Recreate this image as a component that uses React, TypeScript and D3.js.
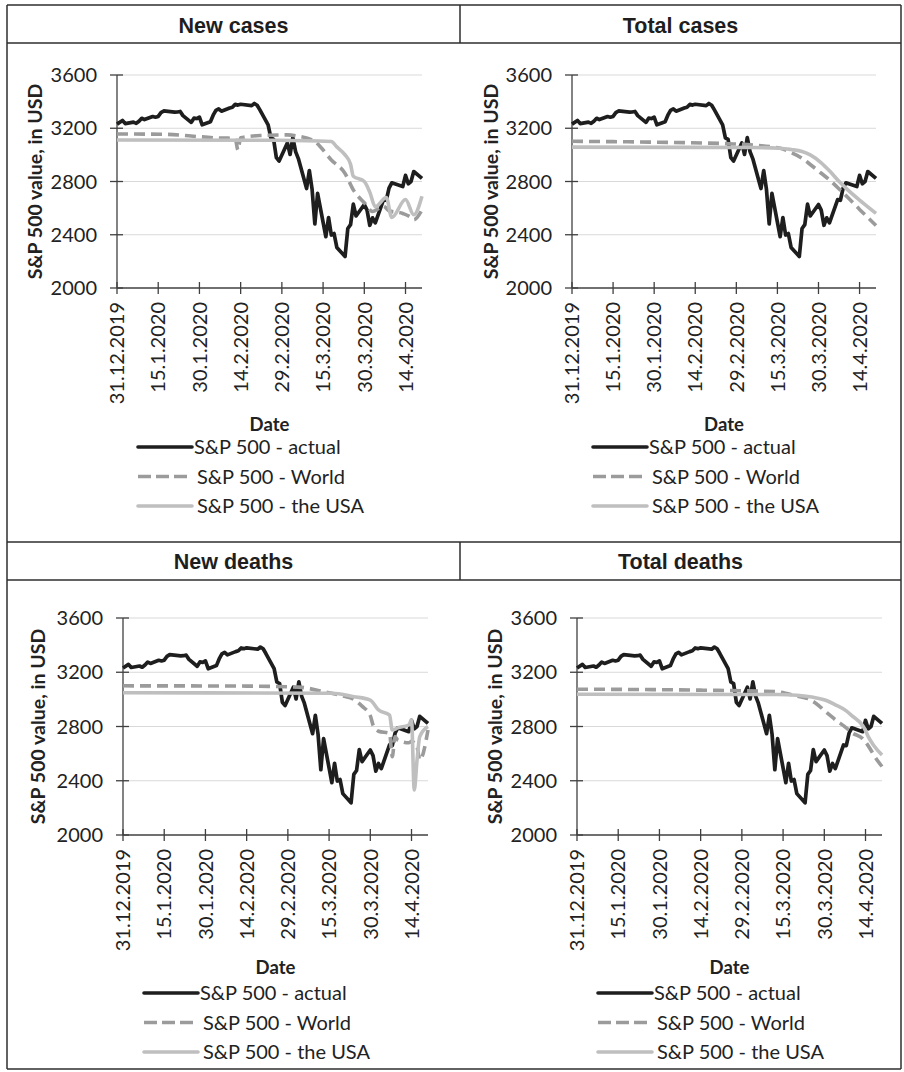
import React from "react";
import * as d3 from "d3";

type Pt = [string, number];

const panelTitles = ["New cases", "Total cases", "New deaths", "Total deaths"];
const legendLabels = ["S&P 500 - actual", "S&P 500 - World", "S&P 500 - the USA"];
const yTicks = [2000, 2400, 2800, 3200, 3600];
const tickDates = [
  "2019-12-31", "2020-01-15", "2020-01-30", "2020-02-14",
  "2020-02-29", "2020-03-15", "2020-03-30", "2020-04-14",
];
const tickLabels = [
  "31.12.2019", "15.1.2020", "30.1.2020", "14.2.2020",
  "29.2.2020", "15.3.2020", "30.3.2020", "14.4.2020",
];

// trading days and S&P 500 closes (actual)
const tradingDates = [
  "2019-12-31",
  "2020-01-02", "2020-01-03", "2020-01-06", "2020-01-07", "2020-01-08", "2020-01-09", "2020-01-10",
  "2020-01-13", "2020-01-14", "2020-01-15", "2020-01-16", "2020-01-17", "2020-01-21", "2020-01-22",
  "2020-01-23", "2020-01-24", "2020-01-27", "2020-01-28", "2020-01-29", "2020-01-30", "2020-01-31",
  "2020-02-03", "2020-02-04", "2020-02-05", "2020-02-06", "2020-02-07", "2020-02-10", "2020-02-11",
  "2020-02-12", "2020-02-13", "2020-02-14", "2020-02-18", "2020-02-19", "2020-02-20", "2020-02-21",
  "2020-02-24", "2020-02-25", "2020-02-26", "2020-02-27", "2020-02-28",
  "2020-03-02", "2020-03-03", "2020-03-04", "2020-03-05", "2020-03-06", "2020-03-09", "2020-03-10",
  "2020-03-11", "2020-03-12", "2020-03-13", "2020-03-16", "2020-03-17", "2020-03-18", "2020-03-19",
  "2020-03-20", "2020-03-23", "2020-03-24", "2020-03-25", "2020-03-26", "2020-03-27", "2020-03-30",
  "2020-03-31",
  "2020-04-01", "2020-04-02", "2020-04-03", "2020-04-06", "2020-04-07", "2020-04-08", "2020-04-09",
  "2020-04-13", "2020-04-14", "2020-04-15", "2020-04-16", "2020-04-17", "2020-04-20",
];
const actualValues = [
  3231,
  3258, 3235, 3246, 3237, 3253, 3275, 3265, 3288, 3283, 3289, 3317, 3330, 3321, 3322,
  3326, 3295, 3244, 3276, 3273, 3284, 3226,
  3249, 3298, 3335, 3346, 3328, 3352, 3358, 3379, 3374, 3380, 3370, 3386, 3373, 3338,
  3226, 3128, 3116, 2979, 2954,
  3090, 3003, 3130, 3024, 2972, 2747, 2882, 2741, 2481, 2711, 2386, 2529, 2398, 2409,
  2305, 2237, 2447, 2476, 2630, 2541, 2627, 2585,
  2471, 2527, 2489, 2664, 2659, 2750, 2790, 2762, 2846, 2783, 2800, 2875, 2823,
];

// model estimates
const newCasesWorld: Pt[] = [
  ["2019-12-31", 3157], ["2020-01-17", 3155], ["2020-01-31", 3135], ["2020-02-07", 3126],
  ["2020-02-12", 3125], ["2020-02-13", 3037], ["2020-02-14", 3128], ["2020-02-21", 3145],
  ["2020-03-02", 3150], ["2020-03-06", 3140], ["2020-03-12", 3100], ["2020-03-18", 2962],
  ["2020-03-23", 2860], ["2020-03-26", 2737], ["2020-03-30", 2640], ["2020-04-02", 2575],
  ["2020-04-06", 2615], ["2020-04-08", 2580], ["2020-04-13", 2560], ["2020-04-16", 2530],
  ["2020-04-17", 2512], ["2020-04-20", 2587],
];
const newCasesUsa: Pt[] = [
  ["2019-12-31", 3112], ["2020-02-28", 3110], ["2020-03-18", 3100], ["2020-03-20", 3060],
  ["2020-03-23", 3000], ["2020-03-25", 2930], ["2020-03-26", 2840], ["2020-03-30", 2800],
  ["2020-04-01", 2720], ["2020-04-03", 2610], ["2020-04-07", 2680], ["2020-04-09", 2530],
  ["2020-04-14", 2665], ["2020-04-17", 2550], ["2020-04-20", 2690],
];
const totalCasesWorld: Pt[] = [
  ["2019-12-31", 3102], ["2020-01-31", 3095], ["2020-02-28", 3082], ["2020-03-16", 3050],
  ["2020-03-20", 3018], ["2020-03-24", 2975], ["2020-03-27", 2928], ["2020-03-31", 2862],
  ["2020-04-03", 2812], ["2020-04-07", 2735], ["2020-04-09", 2695], ["2020-04-14", 2590],
  ["2020-04-17", 2530], ["2020-04-20", 2470],
];
const totalCasesUsa: Pt[] = [
  ["2019-12-31", 3058], ["2020-03-06", 3055], ["2020-03-16", 3050], ["2020-03-20", 3040],
  ["2020-03-24", 3025], ["2020-03-27", 3000], ["2020-03-31", 2940], ["2020-04-03", 2880],
  ["2020-04-07", 2790], ["2020-04-09", 2750], ["2020-04-14", 2660], ["2020-04-17", 2610],
  ["2020-04-20", 2560],
];
const newDeathsWorld: Pt[] = [
  ["2019-12-31", 3100], ["2020-02-14", 3098], ["2020-03-04", 3090], ["2020-03-13", 3057],
  ["2020-03-20", 3025], ["2020-03-24", 3000], ["2020-03-27", 2950], ["2020-03-30", 2880],
  ["2020-03-31", 2811], ["2020-04-02", 2765], ["2020-04-06", 2750], ["2020-04-07", 2577],
  ["2020-04-08", 2725], ["2020-04-09", 2700], ["2020-04-13", 2680], ["2020-04-14", 2690],
  ["2020-04-16", 2650], ["2020-04-17", 2553], ["2020-04-20", 2774],
];
const newDeathsUsa: Pt[] = [
  ["2019-12-31", 3049], ["2020-03-16", 3045], ["2020-03-24", 3020], ["2020-03-30", 2995],
  ["2020-04-02", 2922], ["2020-04-06", 2885], ["2020-04-07", 2774], ["2020-04-09", 2790],
  ["2020-04-13", 2811], ["2020-04-14", 2848], ["2020-04-15", 2332], ["2020-04-16", 2550],
  ["2020-04-17", 2725], ["2020-04-20", 2800],
];
const totalDeathsWorld: Pt[] = [
  ["2019-12-31", 3075], ["2020-02-14", 3068], ["2020-03-12", 3057], ["2020-03-20", 3025],
  ["2020-03-24", 3005], ["2020-03-27", 2970], ["2020-03-31", 2900], ["2020-04-03", 2850],
  ["2020-04-07", 2790], ["2020-04-09", 2755], ["2020-04-13", 2710], ["2020-04-16", 2625],
  ["2020-04-17", 2590], ["2020-04-20", 2505],
];
const totalDeathsUsa: Pt[] = [
  ["2019-12-31", 3038], ["2020-03-13", 3036], ["2020-03-20", 3030], ["2020-03-26", 3015],
  ["2020-03-31", 2990], ["2020-04-03", 2960], ["2020-04-07", 2915], ["2020-04-09", 2880],
  ["2020-04-13", 2805], ["2020-04-14", 2770], ["2020-04-15", 2725], ["2020-04-17", 2660],
  ["2020-04-20", 2590],
];

const parse = d3.utcParse("%Y-%m-%d");
const tickFont = "Lato, 'Open Sans', sans-serif";
const headFont = "'Liberation Sans', Arial, sans-serif";

const C_ACTUAL = "#1e1e1e";
const C_WORLD = "#9b9b9b";
const C_USA = "#bfbfbf";
const DASH = "11 6";
const FS = 20;

interface PanelProps {
  x0: number;
  x1: number;
  yTop: number;
  yBot: number;
  titleX: number;
  world: Pt[];
  usa: Pt[];
  dateY: number;
  legendY: number;
}

function Panel({ x0, x1, yTop, yBot, titleX, world, usa, dateY, legendY }: PanelProps) {
  const x = d3
    .scaleUtc()
    .domain([parse(tradingDates[0])!, parse(tradingDates[tradingDates.length - 1])!])
    .range([x0, x1]);
  const y = d3.scaleLinear().domain([2000, 3600]).range([yBot, yTop]);

  const actual: Pt[] = tradingDates.map((d, i) => [d, actualValues[i]]);
  const straight = d3.line<Pt>().x((d) => x(parse(d[0])!)).y((d) => y(d[1]));
  const smooth = d3
    .line<Pt>()
    .x((d) => x(parse(d[0])!))
    .y((d) => y(d[1]))
    .curve(d3.curveMonotoneX);

  const labelTop = yBot + 14;
  const midY = (yTop + yBot) / 2;
  const midX = (x0 + x1) / 2;
  const lx = x0 + 21;

  return (
    <g>
      {yTicks.slice(1).map((t) => (
        <line key={"g" + t} x1={x0} x2={x1} y1={y(t)} y2={y(t)} stroke="#d9d9d9" strokeWidth={1} />
      ))}
      {/* y axis */}
      <line x1={x0} x2={x0} y1={yTop} y2={yBot} stroke="#404040" strokeWidth={1.3} />
      {yTicks.map((t) => (
        <g key={"y" + t}>
          <line x1={x0 - 7} x2={x0 + 6} y1={y(t)} y2={y(t)} stroke="#404040" strokeWidth={1.3} />
          <text
            x={x0 - 20}
            y={y(t)}
            dy="0.36em"
            textAnchor="end"
            fontFamily={tickFont}
            fontSize={FS}
            fill="#222"
          >
            {t}
          </text>
        </g>
      ))}
      {/* x axis */}
      <line x1={x0} x2={x1} y1={yBot} y2={yBot} stroke="#404040" strokeWidth={1.3} />
      {tickDates.map((d, i) => {
        const tx = x(parse(d)!);
        return (
          <g key={"x" + d}>
            <line x1={tx} x2={tx} y1={yBot - 6} y2={yBot + 6} stroke="#404040" strokeWidth={1.3} />
            <text
              transform={`translate(${tx},${labelTop}) rotate(-90)`}
              dy="0.36em"
              textAnchor="end"
              fontFamily={tickFont}
              fontSize={FS}
              fill="#222"
            >
              {tickLabels[i]}
            </text>
          </g>
        );
      })}
      {/* series */}
      <path d={straight(actual)!} fill="none" stroke={C_ACTUAL} strokeWidth={3.7} strokeLinejoin="round" />
      <path
        d={smooth(world)!}
        fill="none"
        stroke={C_WORLD}
        strokeWidth={3.6}
        strokeDasharray={DASH}
        strokeLinejoin="round"
      />
      <path d={smooth(usa)!} fill="none" stroke={C_USA} strokeWidth={3.6} strokeLinejoin="round" />
      {/* axis titles */}
      <text
        transform={`translate(${titleX},${midY}) rotate(-90)`}
        dy="0.36em"
        textAnchor="middle"
        fontFamily={tickFont}
        fontWeight="bold"
        fontSize={19.5}
        fill="#222"
      >
        S&amp;P 500 value, in USD
      </text>
      <text
        x={midX}
        y={dateY}
        dy="0.36em"
        textAnchor="middle"
        fontFamily={tickFont}
        fontWeight="bold"
        fontSize={18.5}
        fill="#222"
      >
        Date
      </text>
      {/* legend */}
      {legendLabels.map((lab, i) => {
        const ly = legendY + i * 29.5;
        const stroke = i === 0 ? C_ACTUAL : i === 1 ? C_WORLD : C_USA;
        return (
          <g key={lab}>
            <line
              x1={lx}
              x2={i === 1 ? lx + 49 : lx + 54}
              y1={ly}
              y2={ly}
              stroke={stroke}
              strokeWidth={3.6}
              strokeDasharray={i === 1 ? "13 5" : undefined}
              strokeLinecap={i === 1 ? "butt" : "round"}
            />
            <text
              x={i === 0 ? lx + 56 : lx + 59}
              y={ly}
              dy="0.36em"
              fontFamily={tickFont}
              fontSize={FS}
              fill="#222"
            >
              {lab}
            </text>
          </g>
        );
      })}
    </g>
  );
}

const App: React.FC = () => {
  const L = 7;
  const M = 460;
  const R = 901;
  const B = 1069;
  const frame = "#2e2e2e";
  return (
    <svg
      width={904}
      height={1072}
      style={{ position: "absolute", left: 0, top: 0, background: "#fff" }}
    >
      <rect x={0} y={0} width={904} height={1072} fill="#fff" />
      {/* frame */}
      <line x1={L} x2={R} y1={5} y2={5} stroke={frame} strokeWidth={1.5} />
      <line x1={L} x2={R} y1={43} y2={43} stroke={frame} strokeWidth={1.5} />
      <line x1={L} x2={R} y1={542} y2={542} stroke={frame} strokeWidth={1.5} />
      <line x1={L} x2={R} y1={580} y2={580} stroke={frame} strokeWidth={1.5} />
      <line x1={L} x2={R} y1={B} y2={B} stroke={frame} strokeWidth={1.5} />
      <line x1={L} x2={L} y1={5} y2={B} stroke={frame} strokeWidth={1.5} />
      <line x1={R} x2={R} y1={5} y2={B} stroke={frame} strokeWidth={1.5} />
      <line x1={M} x2={M} y1={5} y2={43} stroke={frame} strokeWidth={1.5} />
      <line x1={M} x2={M} y1={542} y2={580} stroke={frame} strokeWidth={1.5} />
      {/* headers */}
      {panelTitles.map((t, i) => (
        <text
          key={t}
          x={i % 2 === 0 ? (L + M) / 2 : (M + R) / 2}
          y={i < 2 ? 33 : 569}
          textAnchor="middle"
          fontFamily={headFont}
          fontWeight="bold"
          fontSize={21.5}
          fill="#1e1e1e"
        >
          {t}
        </text>
      ))}
      <Panel x0={117} x1={422} yTop={75} yBot={288} titleX={35} world={newCasesWorld} usa={newCasesUsa} dateY={424} legendY={447} />
      <Panel x0={572} x1={876} yTop={75} yBot={288} titleX={491} world={totalCasesWorld} usa={totalCasesUsa} dateY={424} legendY={447} />
      <Panel x0={123} x1={428} yTop={618} yBot={835} titleX={38} world={newDeathsWorld} usa={newDeathsUsa} dateY={967} legendY={993} />
      <Panel x0={577} x1={882} yTop={618} yBot={835} titleX={495} world={totalDeathsWorld} usa={totalDeathsUsa} dateY={967} legendY={993} />
    </svg>
  );
};

export default App;
